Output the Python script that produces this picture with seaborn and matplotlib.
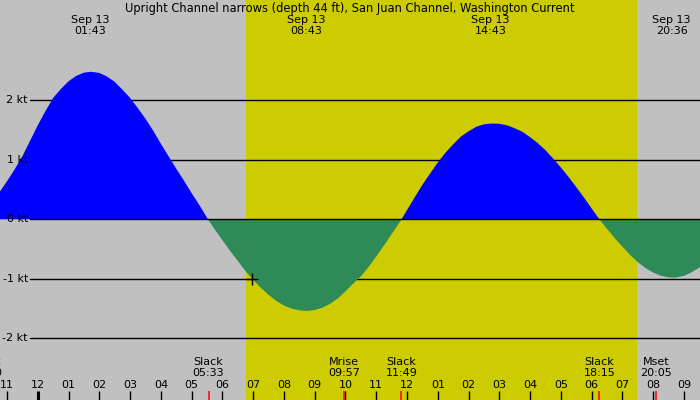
import numpy as np
import pandas as pd
import matplotlib
matplotlib.use("Agg")
import matplotlib.pyplot as plt
import seaborn as sns

# Current speed (kt), hours after midnight Sep 13
hours = [-1.75, -1.5, -1.25, -1.0, -0.75, -0.5, -0.25, 0.0, 0.25, 0.5, 0.75, 1.0, 1.25, 1.5, 1.73,
         2.0, 2.25, 2.5, 2.75, 3.0, 3.25, 3.5, 3.75, 4.0, 4.25, 4.5, 4.75, 5.0, 5.25, 5.53,
         5.75, 6.0, 6.25, 6.5, 6.75, 7.0, 7.25, 7.5, 7.75, 8.0, 8.25, 8.5, 8.74,
         9.0, 9.25, 9.5, 9.75, 10.0, 10.25, 10.5, 10.75, 11.0, 11.25, 11.5, 11.82,
         12.0, 12.25, 12.5, 12.75, 13.0, 13.25, 13.5, 13.75, 14.0, 14.25, 14.5, 14.75,
         15.0, 15.25, 15.5, 15.75, 16.0, 16.25, 16.5, 16.75, 17.0, 17.25, 17.5, 17.75, 18.0, 18.25,
         18.5, 18.75, 19.0, 19.25, 19.5, 19.75, 20.0, 20.25, 20.5, 20.64,
         20.75, 21.0, 21.25, 21.5, 21.75, 22.0]
speeds = [0.12, 0.28, 0.45, 0.64, 0.84, 1.06, 1.32, 1.58, 1.82, 2.04, 2.19, 2.32, 2.41, 2.465, 2.48,
          2.46, 2.40, 2.31, 2.18, 2.04, 1.87, 1.69, 1.49, 1.27, 1.06, 0.85, 0.65, 0.44, 0.24, 0.0,
          -0.17, -0.35, -0.53, -0.70, -0.87, -1.02, -1.15, -1.27, -1.37, -1.45, -1.50, -1.53, -1.54,
          -1.525, -1.485, -1.42, -1.33, -1.21, -1.08, -0.96, -0.80, -0.625, -0.44, -0.25, 0.0,
          0.155, 0.37, 0.58, 0.77, 0.955, 1.12, 1.26, 1.39, 1.48, 1.555, 1.597, 1.61,
          1.605, 1.58, 1.53, 1.47, 1.38, 1.28, 1.16, 1.02, 0.87, 0.71, 0.54, 0.365, 0.18, 0.0,
          -0.16, -0.317, -0.46, -0.60, -0.72, -0.82, -0.895, -0.95, -0.975, -0.98,
          -0.977, -0.95, -0.89, -0.81, -0.70, -0.57]

# max / min current labels along the top
peak_hours = [1.717, 8.717, 14.717, 20.6]
peak_labels = ["Sep 13\n01:43", "Sep 13\n08:43", "Sep 13\n14:43", "Sep 13\n20:36"]

# slack and moon events along the bottom
event_hours = [-1.67, 5.55, 9.95, 11.817, 18.25, 20.083]
event_labels = ["Slack\n22:20", "Slack\n05:33", "Mrise\n09:57", "Slack\n11:49", "Slack\n18:15", "Mset\n20:05"]

hour_ticks = list(range(-1, 22))
hour_labels = ["11", "12", "01", "02", "03", "04", "05", "06", "07", "08", "09", "10",
               "11", "12", "01", "02", "03", "04", "05", "06", "07", "08", "09"]

kt_levels = [2, 1, 0, -1, -2]
kt_labels = ["2 kt", "1 kt", "0 kt", "-1 kt", "-2 kt"]

sunrise, sunset = 6.77, 19.47
now_hour, now_kt = 6.97, -1.0

title = "Upright Channel narrows (depth 44 ft), San Juan Channel, Washington Current"

sns.set_style("white")
plt.rcParams['font.family'] = ['DejaVu Sans']
plt.rcParams['text.color'] = 'black'

fig = plt.figure(figsize=(7, 4), dpi=100)
ax = fig.add_axes([0, 0, 1, 1])
ax.set_facecolor("#c0c0c0")
ax.set_xlim(-1.2275, 21.52)
ax.set_ylim(-3.037, 3.686)

# daylight band
ax.axvspan(sunrise, sunset, color="#cccc00", lw=0, zorder=0)

# kt grid lines (behind the fill)
for lv in kt_levels:
    if lv != 0:
        ax.axhline(lv, xmin=30 / 700, color="black", lw=1, zorder=1)

df = pd.DataFrame({"hour": hours, "kt": speeds})
ax.fill_between(df["hour"], df["kt"], 0, where=df["kt"] >= 0, interpolate=True,
                color="#0000ff", lw=0, zorder=2)
ax.fill_between(df["hour"], df["kt"], 0, where=df["kt"] <= 0, interpolate=True,
                color="#2e8b57", lw=0, zorder=2)
ax.axhline(0, xmin=30 / 700, color="black", lw=1, zorder=3)

# current time marker
sns.scatterplot(x=[now_hour], y=[now_kt], marker="+", s=70, color="black",
                linewidth=1, ax=ax, zorder=4)

ytr = ax.get_yaxis_transform()
for lv, lab in zip(kt_levels, kt_labels):
    ax.text(28 / 700, lv, lab, transform=ytr, ha="right", va="center", fontsize=8,
            color="black", zorder=5)

xtr = ax.get_xaxis_transform()
ax.text(0.5, 0.978, title, transform=ax.transAxes, ha="center", va="center",
        fontsize=8.3, color="black")
for h, lab in zip(peak_hours, peak_labels):
    ax.text(h, 0.936, lab, transform=xtr, ha="center", va="center", fontsize=8,
            linespacing=1.2, color="black")

for h, lab in zip(event_hours, event_labels):
    ax.text(h, 0.082, lab, transform=xtr, ha="center", va="center", fontsize=8,
            linespacing=1.15, color="black")

# hour ticks
for h, lab in zip(hour_ticks, hour_labels):
    ax.text(h, 0.0375, lab, transform=xtr, ha="center", va="center", fontsize=8, color="black")
    ax.vlines(h, 0, 0.0225, transform=xtr, color="black", lw=2.2 if h == 0 else 1.0)
ax.vlines(event_hours[1:], 0, 0.0225, transform=xtr, color="red", lw=1.1)

ax.set_xticks([])
ax.set_yticks([])
for s in ax.spines.values():
    s.set_visible(False)
ax.set_xlabel("")
ax.set_ylabel("")

fig.savefig("out.png", dpi=100)
